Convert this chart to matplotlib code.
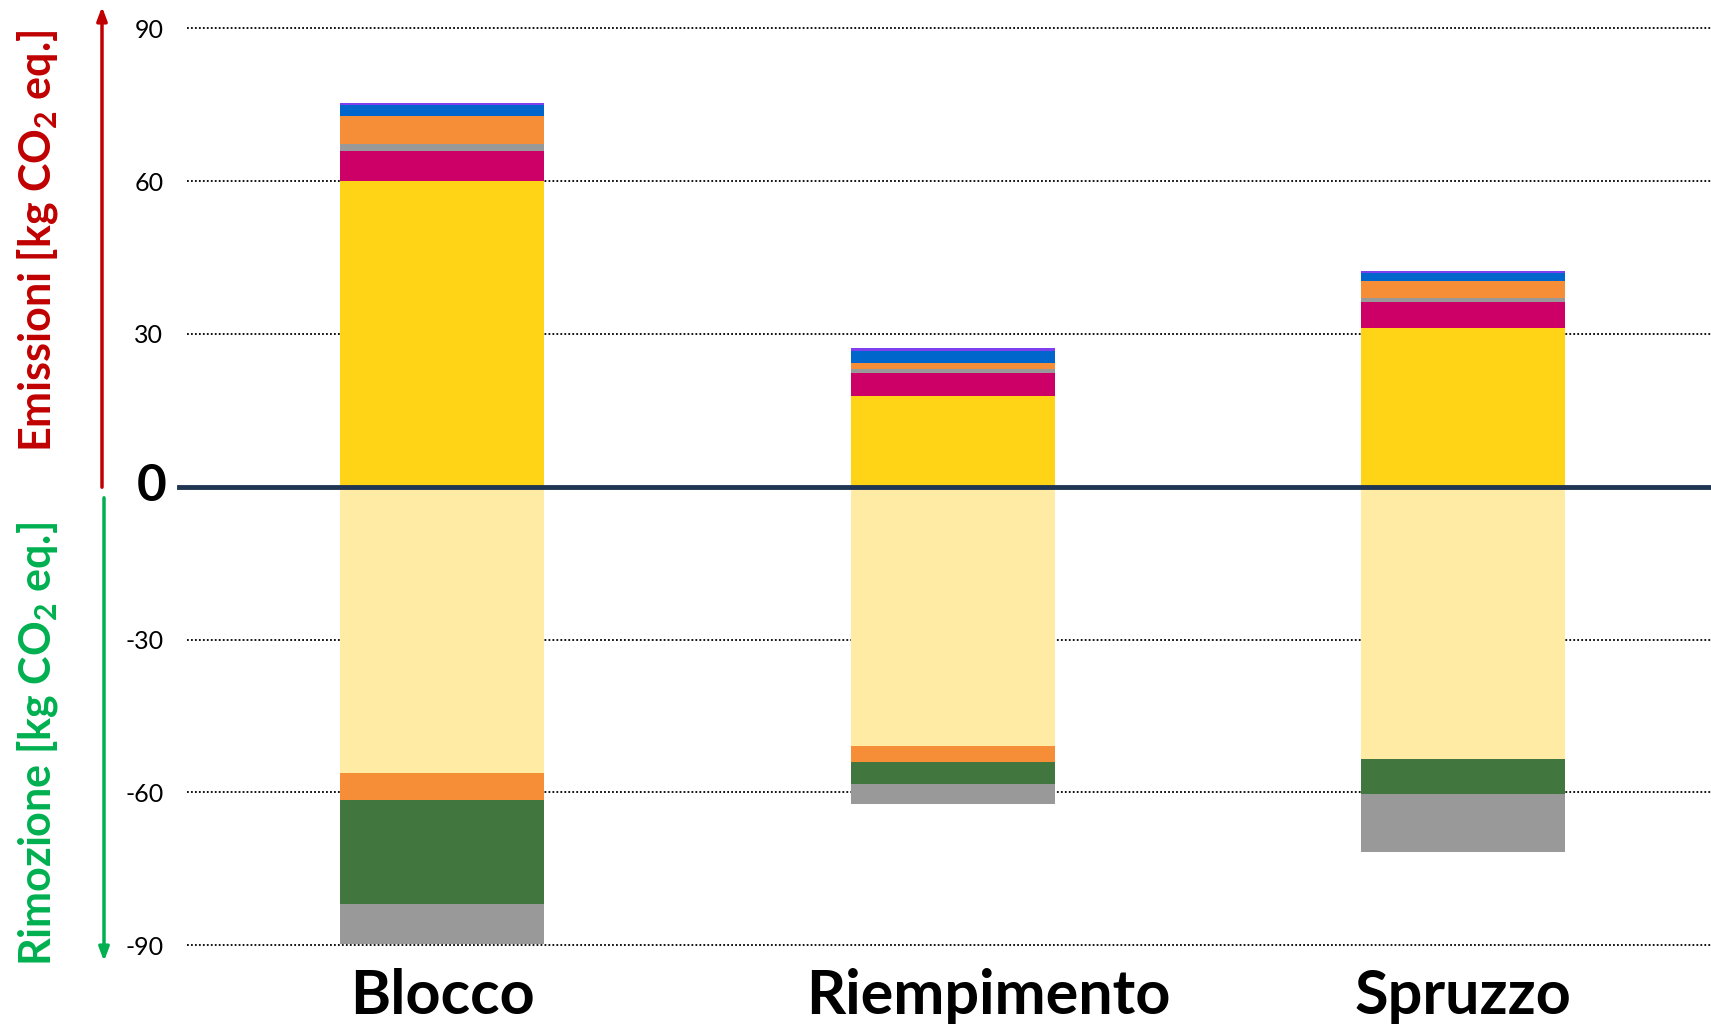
import matplotlib.pyplot as plt
import matplotlib.transforms as mtransforms
import numpy as np

plt.rcParams["font.family"] = ["Lato", "DejaVu Sans"]
plt.rcParams["mathtext.default"] = "regular"

categories = ["Blocco", "Riempimento", "Spruzzo"]

# emissions, stacked upward from zero
emis_yellow = [60.0, 17.8, 31.1]
emis_magenta = [5.9, 4.6, 5.1]
emis_gray = [1.3, 0.7, 0.8]
emis_orange = [5.6, 1.2, 3.4]
emis_blue = [2.1, 2.4, 1.5]
emis_purple = [0.35, 0.45, 0.45]

# removals, stacked downward from zero
rem_lightyellow = [-56.3, -50.9, -53.5]
rem_orange = [-5.2, -3.1, 0.0]
rem_green = [-20.4, -4.4, -6.8]
rem_gray = [-7.9, -3.8, -11.5]

ytick_values = [-90, -60, -30, 0, 30, 60, 90]

pos_series = [
    (emis_yellow, "#FFD316"),
    (emis_magenta, "#CC0066"),
    (emis_gray, "#999999"),
    (emis_orange, "#F68E38"),
    (emis_blue, "#0066CC"),
    (emis_purple, "#7F3FEF"),
]
neg_series = [
    (rem_lightyellow, "#FFEBA3"),
    (rem_orange, "#F68E38"),
    (rem_green, "#41763F"),
    (rem_gray, "#999999"),
]

W, H = 1711, 1025
fig = plt.figure(figsize=(W / 100, H / 100), dpi=100)
ax_left, ax_right = 187, 1711
ax_top, ax_bottom = 18.1, 955.3
ax = fig.add_axes([ax_left / W, 1 - ax_bottom / H, (ax_right - ax_left) / W, (ax_bottom - ax_top) / H])

x = np.arange(len(categories))
bar_w = 0.4

bottom = np.zeros(len(categories))
for values, color in pos_series:
    ax.bar(x, values, bar_w, bottom=bottom, color=color, linewidth=0, zorder=2)
    bottom += np.array(values)

bottom = np.zeros(len(categories))
for values, color in neg_series:
    ax.bar(x, values, bar_w, bottom=bottom, color=color, linewidth=0, zorder=2)
    bottom += np.array(values)

for v in ytick_values:
    if v != 0:
        ax.axhline(v, color="black", linestyle=(0, (1, 1.2)), linewidth=1.3, zorder=1)
ax.axhline(0, xmin=-0.005, xmax=1, color="#1F3552", linewidth=3.5, zorder=3, clip_on=False)

ax.set_xlim(-0.5, -0.5 + (ax_right - ax_left) / 510.5)
ax.set_ylim(-92, 92)

ax.set_yticks(ytick_values)
ax.set_yticklabels(["" if v == 0 else str(v) for v in ytick_values], fontsize=18)
ax.tick_params(axis="y", length=0, pad=17)

# the zero label is drawn bold and larger
trans = mtransforms.blended_transform_factory(fig.transFigure, ax.transData)
ax.text(167 / W, 0, "0", transform=trans, fontsize=37, fontweight="bold",
        ha="right", va="center")

ax.set_xticks(x)
ax.set_xticklabels(categories, fontsize=44, fontweight="bold")
ax.tick_params(axis="x", length=0, pad=9)
# middle label sits a bit right of its bar in the original
mid = ax.get_xticklabels()[1]
mid.set_transform(mid.get_transform() + mtransforms.ScaledTranslation(0.36, 0, fig.dpi_scale_trans))

for s in ax.spines.values():
    s.set_visible(False)

# side arrows
ax.annotate("", xy=(102 / W, 1 - 4 / H), xytext=(102 / W, 1 - 490 / H),
            xycoords="figure fraction", textcoords="figure fraction",
            arrowprops=dict(arrowstyle="-|>,head_length=0.8,head_width=0.3", color="#C00000", lw=2.5))
ax.annotate("", xy=(104 / W, 1 - 964 / H), xytext=(104 / W, 1 - 495 / H),
            xycoords="figure fraction", textcoords="figure fraction",
            arrowprops=dict(arrowstyle="-|>,head_length=0.8,head_width=0.3", color="#00B050", lw=2.5))

fig.text(38 / W, 1 - 241 / H, "Emissioni [kg CO$_2$ eq.]", rotation=90, color="#C00000",
         fontsize=31, fontweight="bold", ha="center", va="center")
fig.text(38 / W, 1 - 744 / H, "Rimozione [kg CO$_2$ eq.]", rotation=90, color="#00B050",
         fontsize=31, fontweight="bold", ha="center", va="center")

fig.savefig("out.png", dpi=100)
